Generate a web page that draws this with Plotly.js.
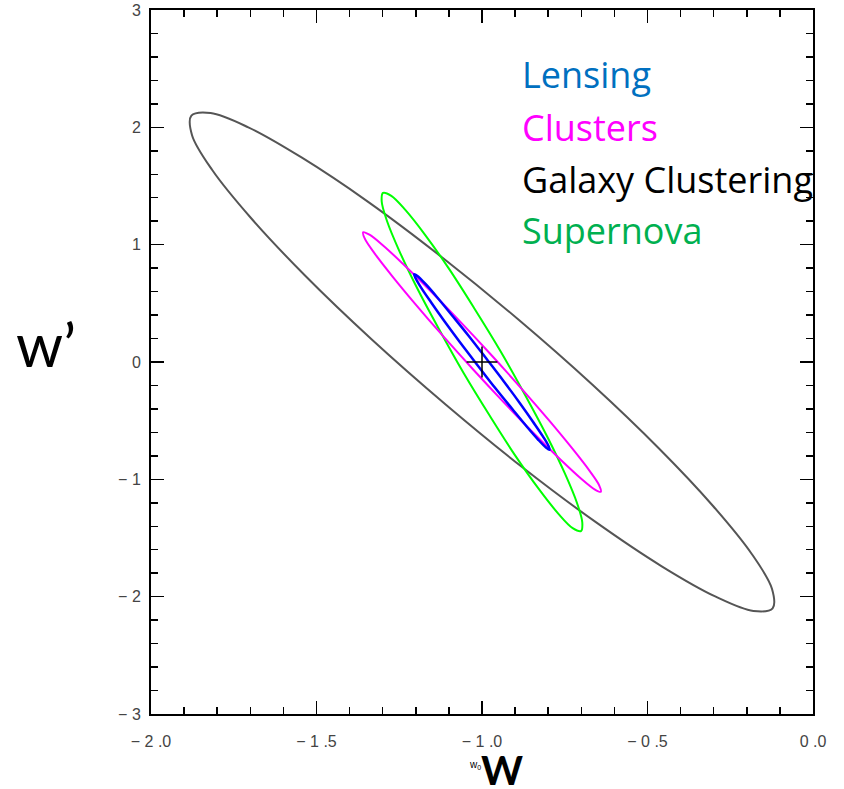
<!DOCTYPE html>
<html>
<head>
<meta charset="utf-8">
<script src="https://cdn.plot.ly/plotly-3.0.1.min.js"></script>
<style>html,body{margin:0;padding:0;background:#fff;}#chart{width:844px;height:789px;}</style>
</head>
<body>
<div id="chart"></div>
<script>
// Contour outlines (w0 on x, w' on y)
const galX = [-0.122,-0.180,-0.294,-0.457,-0.656,-0.879,-1.109,-1.333,-1.534,-1.698,-1.815,-1.876,-1.878,-1.820,-1.706,-1.544,-1.344,-1.122,-0.891,-0.667,-0.466,-0.302,-0.185,-0.124,-0.122];
const galY = [-2.099,-2.122,-2.000,-1.741,-1.365,-0.895,-0.364,0.192,0.735,1.227,1.636,1.933,2.099,2.122,2.000,1.741,1.365,0.895,0.364,-0.192,-0.735,-1.227,-1.636,-1.933,-2.099];

const snX = [-0.701,-0.726,-0.769,-0.828,-0.899,-0.976,-1.056,-1.131,-1.198,-1.251,-1.287,-1.303,-1.299,-1.274,-1.231,-1.172,-1.101,-1.024,-0.944,-0.869,-0.802,-0.749,-0.713,-0.697,-0.701];
const snY = [-1.441,-1.416,-1.294,-1.084,-0.800,-0.461,-0.092,0.285,0.641,0.954,1.202,1.368,1.441,1.416,1.294,1.084,0.800,0.461,0.092,-0.285,-0.641,-0.954,-1.202,-1.368,-1.441];

const clusX = [-0.641,-0.660,-0.702,-0.764,-0.843,-0.932,-1.026,-1.118,-1.202,-1.272,-1.324,-1.354,-1.359,-1.340,-1.298,-1.236,-1.157,-1.068,-0.974,-0.882,-0.798,-0.728,-0.676,-0.646,-0.641];
const clusY = [-1.106,-1.085,-0.991,-0.829,-0.610,-0.350,-0.066,0.222,0.496,0.735,0.924,1.051,1.106,1.085,0.991,0.829,0.610,0.350,0.066,-0.222,-0.496,-0.735,-0.924,-1.051,-1.106];

const lensX = [-0.796,-0.806,-0.830,-0.865,-0.909,-0.960,-1.013,-1.066,-1.114,-1.154,-1.184,-1.201,-1.205,-1.194,-1.170,-1.135,-1.091,-1.040,-0.987,-0.934,-0.886,-0.846,-0.816,-0.799,-0.796];
const lensY = [-0.749,-0.731,-0.663,-0.550,-0.399,-0.222,-0.029,0.166,0.349,0.509,0.634,0.716,0.749,0.731,0.663,0.550,0.399,0.222,0.029,-0.166,-0.349,-0.509,-0.634,-0.716,-0.749];

const fiducialX = [-1.0];
const fiducialY = [0.0];

const labels = ["Lensing", "Clusters", "Galaxy Clustering", "Supernova"];
const labelColors = ["#0070c0", "#ff00ff", "#000000", "#00b050"];

const xTickVals = [-2.0, -1.5, -1.0, -0.5, 0.0];
const xTickText = ["\u2212 2 .0", "\u2212 1 .5", "\u2212 1 .0", "\u2212 0 .5", "0 .0"];
const yTickVals = [-3, -2, -1, 0, 1, 2, 3];
const yTickText = ["\u2212 3", "\u2212 2", "\u2212 1", "0", "1", "2", "3"];

function loop(x, y, color, width) {
  return {x: x, y: y, type: 'scatter', mode: 'lines',
          line: {color: color, width: width, shape: 'spline', smoothing: 1},
          hoverinfo: 'skip', showlegend: false};
}

const traces = [
  loop(galX, galY, '#555555', 2),
  loop(snX, snY, '#00ff00', 2),
  loop(clusX, clusY, '#ff00ff', 2),
  loop(lensX, lensY, '#0000ff', 2.5),
  {x: fiducialX, y: fiducialY, type: 'scatter', mode: 'markers',
   marker: {symbol: 'cross-thin', size: 22, line: {color: '#000', width: 1.5}},
   showlegend: false, hoverinfo: 'skip'}
];

const labelY = [0.9077, 0.8331, 0.7599, 0.6868];
const annotations = labels.map((t, i) => ({
  text: t, xref: 'paper', yref: 'paper', x: 0.5574, y: labelY[i],
  xanchor: 'left', yanchor: 'middle', showarrow: false,
  font: {family: '"Open Sans", Lato, sans-serif', size: 36, color: labelColors[i]}
}));
annotations.push({text: 'w\u2019', xref: 'paper', yref: 'paper', x: -0.158, y: 0.525,
  xanchor: 'center', yanchor: 'middle', showarrow: false,
  font: {family: 'Lato, sans-serif', size: 60, color: '#000'}});
annotations.push({text: '<b>W</b>', xref: 'paper', yref: 'paper', x: 0.530, y: -0.080,
  xanchor: 'center', yanchor: 'middle', showarrow: false,
  font: {family: 'Lato, sans-serif', size: 40, color: '#000'}});
annotations.push({text: 'w<sub>0</sub>', xref: 'paper', yref: 'paper', x: 0.490, y: -0.072,
  xanchor: 'center', yanchor: 'middle', showarrow: false,
  font: {family: '"Liberation Sans", sans-serif', size: 10, color: '#000'}});

const axisCommon = {
  showgrid: false, zeroline: false, showline: true, linecolor: '#000', linewidth: 2,
  mirror: 'allticks', ticks: 'inside', ticklen: 13, tickwidth: 1.5, tickcolor: '#000',
  tickfont: {family: '"Liberation Sans", Arial, sans-serif', size: 16, color: '#444'},
  tickmode: 'array'
};

const layout = {
  width: 844, height: 789,
  margin: {l: 151, r: 31, t: 10, b: 75},
  paper_bgcolor: '#fff', plot_bgcolor: '#fff',
  xaxis: Object.assign({}, axisCommon, {
    range: [-2.0, 0.0], tickvals: xTickVals, ticktext: xTickText,
    minor: {dtick: 0.1, tick0: 0, ticks: 'inside', ticklen: 7, tickwidth: 1.5, tickcolor: '#000', showgrid: false},
    ticklabelstandoff: 12
  }),
  yaxis: Object.assign({}, axisCommon, {
    range: [-3, 3], tickvals: yTickVals, ticktext: yTickText,
    minor: {dtick: 0.2, tick0: 0, ticks: 'inside', ticklen: 7, tickwidth: 1.5, tickcolor: '#000', showgrid: false},
    ticklabelstandoff: 5
  }),
  annotations: annotations,
  showlegend: false
};

Plotly.newPlot('chart', traces, layout, {staticPlot: true});
</script>
</body>
</html>
